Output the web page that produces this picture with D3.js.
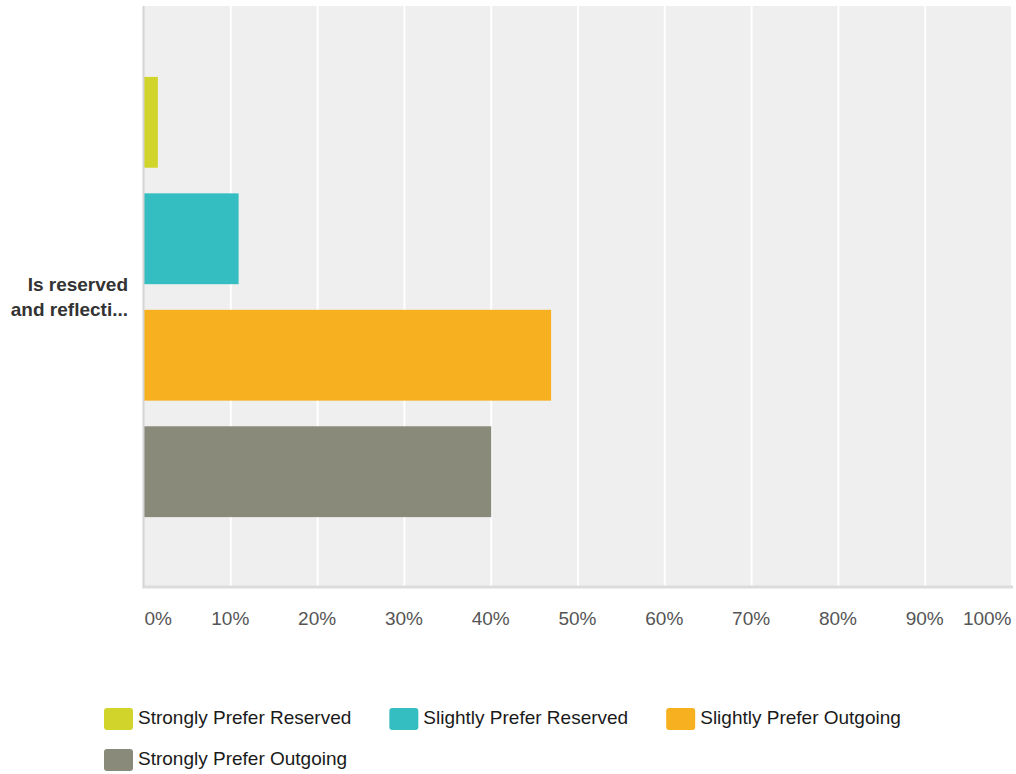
<!DOCTYPE html>
<html>
<head>
<meta charset="utf-8">
<script src="https://cdn.jsdelivr.net/npm/d3@7"></script>
<style>
  html, body { margin: 0; padding: 0; background: #ffffff; }
  svg { display: block; font-family: "Liberation Sans", Arial, Helvetica, sans-serif; }
</style>
</head>
<body>
<svg id="chart" width="1016" height="774"></svg>
<script>
// Question label (two visible lines) and the answer series
const questionLines = ["Is reserved", "and reflecti..."];
const seriesNames = ["Strongly Prefer Reserved", "Slightly Prefer Reserved", "Slightly Prefer Outgoing", "Strongly Prefer Outgoing"];
const seriesValues = [1.6, 10.9, 46.9, 40.0];
const seriesColors = ["#d1d52b", "#35bec1", "#f7b01f", "#898a79"];
const tickValues = [0, 10, 20, 30, 40, 50, 60, 70, 80, 90, 100];
const tickLabels = ["0%", "10%", "20%", "30%", "40%", "50%", "60%", "70%", "80%", "90%", "100%"];

const svg = d3.select("#chart");
const plot = { left: 144, right: 1012, top: 6, bottom: 586 };

const x = d3.scaleLinear().domain([0, 100]).range([plot.left, plot.right]);
const y = d3.scaleBand()
  .domain(seriesNames)
  .range([plot.top, plot.bottom])
  .paddingInner(0.22)
  .paddingOuter(0.6);

// plot background
svg.append("rect")
  .attr("x", plot.left - 1).attr("y", plot.top)
  .attr("width", plot.right - plot.left + 2).attr("height", plot.bottom - plot.top)
  .attr("fill", "#efefef");

// vertical gridlines
svg.append("g").selectAll("line")
  .data(tickValues.slice(1))
  .join("line")
  .attr("x1", d => x(d)).attr("x2", d => x(d))
  .attr("y1", plot.top).attr("y2", plot.bottom)
  .attr("stroke", "#ffffff").attr("stroke-width", 2);

// bars
svg.append("g").selectAll("rect")
  .data(seriesNames.map((n, i) => ({ name: n, value: seriesValues[i], color: seriesColors[i] })))
  .join("rect")
  .attr("x", x(0))
  .attr("y", d => y(d.name) + 1)
  .attr("width", d => x(d.value) - x(0))
  .attr("height", y.bandwidth())
  .attr("fill", d => d.color);

// axis lines (left and bottom)
svg.append("line")
  .attr("x1", plot.left - 0.5).attr("x2", plot.left - 0.5)
  .attr("y1", plot.top).attr("y2", plot.bottom + 2)
  .attr("stroke", "#d4d4d4").attr("stroke-width", 2);
svg.append("line")
  .attr("x1", plot.left - 1.5).attr("x2", plot.right + 1)
  .attr("y1", plot.bottom + 1).attr("y2", plot.bottom + 1)
  .attr("stroke", "#dcdcdc").attr("stroke-width", 3);

// bottom tick labels, kept inside the plot's horizontal span
const xAxis = d3.axisBottom(x).tickValues(tickValues).tickFormat((d, i) => tickLabels[i]).tickSize(0).tickPadding(0);
const axisG = svg.append("g")
  .attr("transform", `translate(0, ${plot.bottom})`)
  .call(xAxis);
axisG.select(".domain").remove();
axisG.selectAll("text")
  .attr("y", 39)
  .attr("dy", null)
  .attr("font-size", 19)
  .attr("font-family", "Liberation Sans, Arial, sans-serif")
  .attr("fill", "#555555")
  .attr("text-anchor", (d, i) => i === 0 ? "start" : (i === tickValues.length - 1 ? "end" : "middle"))
  .attr("x", (d, i) => i === tickValues.length - 1 ? -1 : (i === 0 ? 0 : -1));

// question label
const qLabel = svg.append("text")
  .attr("text-anchor", "end")
  .attr("font-weight", "bold")
  .attr("font-size", 19)
  .attr("fill", "#333333");
questionLines.forEach((line, i) => {
  qLabel.append("tspan")
    .attr("x", 128)
    .attr("y", 291 + i * 24.5)
    .text(line);
});

// legend, flowing left to right and wrapping
const legend = svg.append("g");
const legendLeft = 104, legendRight = 1000, rowGap = 41, itemGap = 38;
let lx = legendLeft, ly = 708;
seriesNames.forEach((name, i) => {
  const item = legend.append("g");
  item.append("rect")
    .attr("width", 29).attr("height", 22)
    .attr("rx", 3).attr("ry", 3)
    .attr("fill", seriesColors[i]);
  const t = item.append("text")
    .attr("x", 34).attr("y", 16)
    .attr("font-size", 19)
    .attr("fill", "#1a1a1a")
    .text(name);
  const w = 34 + t.node().getComputedTextLength();
  if (lx + w > legendRight && lx > legendLeft) {
    lx = legendLeft;
    ly += rowGap;
  }
  item.attr("transform", `translate(${lx}, ${ly})`);
  lx += w + itemGap;
});
</script>
</body>
</html>
